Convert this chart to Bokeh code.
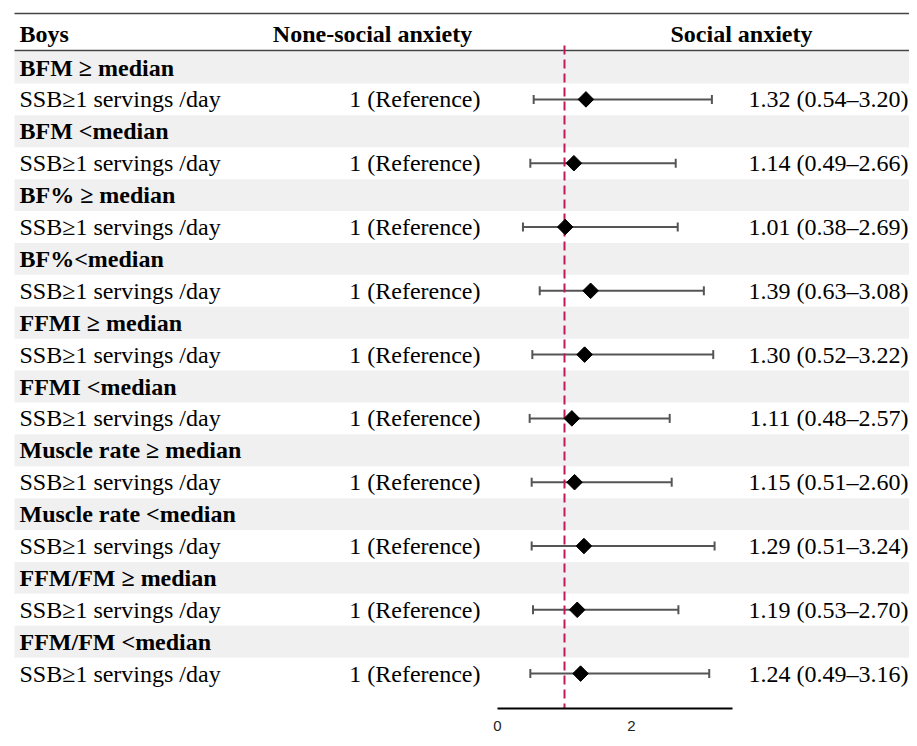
import numpy as np
from bokeh.plotting import figure
from bokeh.models import ColumnDataSource, Range1d, FixedTicker
from bokeh.core.properties import value
from bokeh.embed import file_html
from bokeh.resources import INLINE

# ---------------- data ----------------
header_labels = ["Boys", "None-social anxiety", "Social anxiety"]
groups = ["BFM \u2265 median", "BFM <median", "BF% \u2265 median", "BF%<median",
          "FFMI \u2265 median", "FFMI <median", "Muscle rate \u2265 median",
          "Muscle rate <median", "FFM/FM \u2265 median", "FFM/FM <median"]
exposure_label = "SSB\u22651 servings /day"
reference_label = "1 (Reference)"
or_vals = [1.32, 1.14, 1.01, 1.39, 1.30, 1.11, 1.15, 1.29, 1.19, 1.24]
ci_low = [0.54, 0.49, 0.38, 0.63, 0.52, 0.48, 0.51, 0.51, 0.53, 0.49]
ci_high = [3.20, 2.66, 2.69, 3.08, 3.22, 2.57, 2.60, 3.24, 2.70, 3.16]
x_ticks = [0, 2]
axis_bounds = (0, 3.5)
null_value = 1

# ---------------- layout ----------------
W, H = 909, 738
FRAME_H = 708
PX_PER_UNIT = 67.0
ZERO_PX = 497.0
ROW_PX = 31.9
ROW0_PX = 67.0
SERIF = value("Liberation Serif")
FS = "24px"

def xd(px):
    return (px - ZERO_PX) / PX_PER_UNIT

def yd(px):
    return (px - ROW0_PX) / ROW_PX

n = len(groups)
head_y = [2 * i for i in range(n)]
data_y = [2 * i + 1 for i in range(n)]
estimates = [f"{o:.2f} ({l:.2f}\u2013{h:.2f})" for o, l, h in zip(or_vals, ci_low, ci_high)]

src = ColumnDataSource(dict(y=data_y, orv=or_vals, lo=ci_low, hi=ci_high,
                            est=estimates, expo=[exposure_label] * n,
                            ref=[reference_label] * n))

p = figure(width=W, height=H, output_backend="svg", toolbar_location=None,
           x_range=Range1d(xd(0), xd(W)), y_range=Range1d(yd(FRAME_H), yd(0)),
           min_border_left=0, min_border_right=0, min_border_top=0,
           min_border_bottom=H - FRAME_H, y_axis_location=None)
p.outline_line_color = None
p.xgrid.visible = False
p.ygrid.visible = False
p.background_fill_color = "white"

# gray bands for group heading rows
p.quad(left=xd(14), right=xd(W), top=[y - 0.5 for y in head_y],
       bottom=[y + 0.5 for y in head_y], fill_color="#F0F0F0", line_color=None)

# rules
rule_y = [yd(13), yd(50)]
p.segment(x0=[xd(14)] * 2, x1=[xd(W)] * 2, y0=rule_y, y1=rule_y,
          line_color="#444444", line_width=1.6)

# header
hy = yd(33)
p.text(x=[xd(19)], y=[hy], text=[header_labels[0]], text_font=SERIF, text_font_size=FS,
       text_font_style="bold", text_align="left", text_baseline="middle", text_color="black")
p.text(x=[xd(372), xd(741)], y=[hy, hy], text=header_labels[1:], text_font=SERIF,
       text_font_size=FS, text_font_style="bold", text_align="center",
       text_baseline="middle", text_color="black")

# group labels
p.text(x=xd(19), y=head_y, text=groups, text_font=SERIF, text_font_size=FS,
       text_font_style="bold", text_align="left", text_baseline="middle", text_color="black")
# rows
p.text(x=xd(19), y="y", text="expo", source=src, text_font=SERIF, text_font_size=FS,
       text_align="left", text_baseline="middle", text_color="black")
p.text(x=xd(480), y="y", text="ref", source=src, text_font=SERIF, text_font_size=FS,
       text_align="right", text_baseline="middle", text_color="black")
p.text(x=xd(908), y="y", text="est", source=src, text_font=SERIF, text_font_size=FS,
       text_align="right", text_baseline="middle", text_color="black")

# CI whiskers
p.segment(x0="lo", x1="hi", y0="y", y1="y", source=src, line_color="#555555", line_width=2)
p.scatter(x="lo", y="y", source=src, marker="dash", angle=np.pi / 2, size=9,
          line_color="#555555", line_width=2)
p.scatter(x="hi", y="y", source=src, marker="dash", angle=np.pi / 2, size=9,
          line_color="#555555", line_width=2)

# null line
p.segment(x0=[null_value], x1=[null_value], y0=[yd(45)], y1=[yd(FRAME_H)],
          line_color="#C2185B", line_width=2, line_dash="9 5")

# point estimates
p.scatter(x="orv", y="y", source=src, marker="square", angle=np.pi / 4, size=11,
          fill_color="black", line_color="black")

# axis
ax = p.xaxis[0]
ax.ticker = FixedTicker(ticks=x_ticks)
ax.bounds = axis_bounds
ax.axis_line_color = "black"
ax.axis_line_width = 2
ax.major_tick_line_color = None
ax.minor_tick_line_color = None
ax.major_tick_out = 0
ax.major_tick_in = 0
ax.major_label_standoff = 12
ax.major_label_text_font = "Liberation Sans"
ax.major_label_text_font_size = "15px"
ax.major_label_text_color = "#222222"

open("out.html", "w").write(file_html(p, INLINE))
